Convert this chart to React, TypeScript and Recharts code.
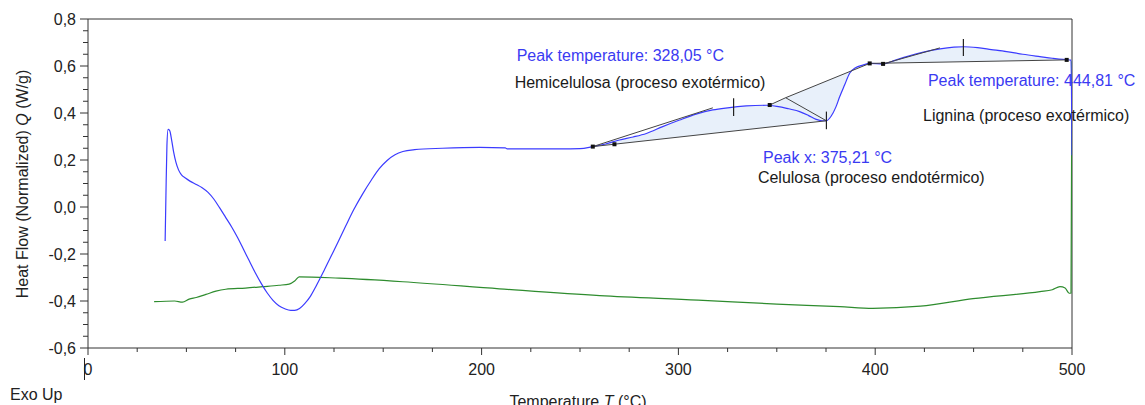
import React from 'react';
import {
  ComposedChart,
  Line,
  Area,
  Scatter,
  XAxis,
  YAxis,
  ReferenceLine,
  ReferenceDot,
} from 'recharts';

// DSC heat flow of the sample (°C, W/g)
const dscTemp = [
  39.2, 39.6, 40.1, 40.7, 41.5, 42.5, 43.5, 44.7, 46, 47.5, 49.5, 52, 55, 58, 61, 64, 67, 70, 73, 76, 79,
  82, 85, 88, 91, 94, 97, 100, 103, 105, 107.5, 110, 113, 116, 119.5, 123, 127, 131, 135, 139.5, 144, 148,
  152, 156, 160, 166, 180, 199, 212, 213, 240, 250, 256.5, 263, 270, 277, 283.7, 292, 300.6, 309, 317.5,
  325, 334.5, 344.7, 346.4, 350, 354.5, 356, 361.6, 366, 370, 373, 375.2, 377.5, 380, 382, 384.5, 387,
  390, 393.7, 397.2, 404, 410, 416, 425, 433, 440, 445, 452, 459, 466.8, 475, 483.7, 490, 495.6, 497.3,
  499.5, 500,
];
const dscFlow = [
  -0.145, 0.05, 0.26, 0.33, 0.325, 0.285, 0.235, 0.19, 0.158, 0.137, 0.123, 0.109, 0.096, 0.082, 0.062,
  0.033, -0.005, -0.045, -0.085, -0.13, -0.18, -0.23, -0.28, -0.325, -0.365, -0.397, -0.42, -0.433, -0.44,
  -0.44, -0.432, -0.412, -0.38, -0.335, -0.278, -0.218, -0.15, -0.08, -0.012, 0.055, 0.115, 0.163, 0.198,
  0.222, 0.236, 0.244, 0.25, 0.254, 0.252, 0.247, 0.247, 0.248, 0.257, 0.268, 0.285, 0.298, 0.313, 0.342,
  0.37, 0.395, 0.413, 0.422, 0.43, 0.433, 0.432, 0.428, 0.421, 0.418, 0.406, 0.39, 0.373, 0.367, 0.367,
  0.385, 0.425, 0.47, 0.52, 0.569, 0.593, 0.604, 0.611, 0.609, 0.624, 0.64, 0.66, 0.673, 0.68, 0.682,
  0.678, 0.67, 0.661, 0.65, 0.64, 0.633, 0.628, 0.627, 0.625, 0.22,
];

// second (green) trace
const refTemp = [
  33.6, 44, 48, 51.4, 55, 59.9, 65, 70, 80, 88.7, 97, 102.2, 105, 107.3, 127.7, 160, 209, 260, 310, 350,
  382, 398.8, 423, 449.7, 483.7, 490, 493.9, 496.5, 498.6, 499.5, 500,
];
const refFlow = [
  -0.403, -0.4, -0.405, -0.392, -0.385, -0.372, -0.358, -0.35, -0.345, -0.339, -0.333, -0.328, -0.315,
  -0.297, -0.303, -0.318, -0.348, -0.377, -0.396, -0.413, -0.424, -0.431, -0.422, -0.39, -0.36, -0.352,
  -0.339, -0.345, -0.367, -0.366, 0.62,
];

// baseline constructions of the peak integrations
const hemiBase: [number, number][] = [[256.5, 0.257], [375.2, 0.367]];
const hemiTangent: [number, number][] = [[256.5, 0.257], [317.5, 0.422]];
const celUpper: [number, number][] = [[346.4, 0.434], [354.5, 0.465], [397.2, 0.611]];
const celDrop: [number, number][] = [[354.5, 0.465], [375.2, 0.367]];
const ligBase: [number, number][] = [[397.2, 0.611], [497.3, 0.626]];
const ligTangent: [number, number][] = [[404, 0.609], [432.9, 0.677]];
const markerPoints: [number, number][] = [
  [256.5, 0.257], [267.5, 0.267], [346.4, 0.434], [397.2, 0.611], [404, 0.609], [497.3, 0.626],
];
const peakTicks = [
  { t: 328.05, lo: 0.387, hi: 0.463 },
  { t: 375.21, lo: 0.331, hi: 0.406 },
  { t: 444.81, lo: 0.643, hi: 0.715 },
];

const notes = [
  { t: 217.8, q: 0.645, text: 'Peak temperature: 328,05 °C', blue: true },
  { t: 216.8, q: 0.53, text: 'Hemicelulosa (proceso exotérmico)', blue: false },
  { t: 426.8, q: 0.537, text: 'Peak temperature: 444,81 °C', blue: true },
  { t: 424.3, q: 0.388, text: 'Lignina (proceso exotérmico)', blue: false },
  { t: 343.0, q: 0.209, text: 'Peak x: 375,21 °C', blue: true },
  { t: 340.4, q: 0.128, text: 'Celulosa (proceso endotérmico)', blue: false },
];

const xTicks = [0, 25, 50, 75, 100, 125, 150, 175, 200, 225, 250, 275, 300, 325, 350, 375, 400, 425, 450, 475, 500];
const yTicks = [
  -0.6, -0.55, -0.5, -0.45, -0.4, -0.35, -0.3, -0.25, -0.2, -0.15, -0.1, -0.05, 0, 0.05, 0.1, 0.15, 0.2,
  0.25, 0.3, 0.35, 0.4, 0.45, 0.5, 0.55, 0.6, 0.65, 0.7, 0.75, 0.8,
];

const FONT = '"Liberation Sans", Arial, sans-serif';
const BLUE = '#3b3bff';
const LABEL_BLUE = '#3a3af2';
const GREEN = '#2e8c2e';
const FILL = '#e8f0fa';
const AXIS = '#333';

const dscData = dscTemp.map((t, i) => ({ t, q: dscFlow[i] }));
const refData = refTemp.map((t, i) => ({ t, q: refFlow[i] }));
const seg = (pts: [number, number][]) => pts.map(([t, q]) => ({ t, q }));
const markerData = seg(markerPoints);

// value of a polyline at t
function polyAt(pts: [number, number][], t: number): number {
  for (let i = 0; i < pts.length - 1; i++) {
    const [t0, q0] = pts[i];
    const [t1, q1] = pts[i + 1];
    if (t >= t0 && t <= t1) return q0 + ((t - t0) / (t1 - t0)) * (q1 - q0);
  }
  return pts[pts.length - 1][1];
}

const hemiFill = dscData
  .filter((d) => d.t >= hemiBase[0][0] && d.t <= hemiBase[1][0])
  .map((d) => ({ t: d.t, band: [polyAt(hemiBase, d.t), d.q] }));
const celFill = dscData
  .filter((d) => d.t >= celUpper[0][0] && d.t <= celUpper[2][0])
  .map((d) => ({ t: d.t, band: [d.q, polyAt(celUpper, d.t)] }));
const ligFill = dscData
  .filter((d) => d.t >= ligBase[0][0] && d.t <= ligBase[1][0])
  .map((d) => ({ t: d.t, band: [polyAt(ligBase, d.t), d.q] }));

const fmt = (v: number) => v.toFixed(1).replace('.', ',');

function YTick(props: any) {
  const { x, y, payload } = props;
  const v = payload.value as number;
  const major = Math.abs(v * 5 - Math.round(v * 5)) < 1e-6;
  return (
    <g>
      <line x1={x - (major ? 8 : 5)} x2={x} y1={y} y2={y} stroke={AXIS} />
      {major && (
        <text x={x - 12} y={y} dy="0.35em" textAnchor="end" fontSize={16} fontFamily={FONT} fill="#222">
          {fmt(v)}
        </text>
      )}
    </g>
  );
}

function XTick(props: any) {
  const { x, y, payload } = props;
  const v = payload.value as number;
  const major = v % 100 === 0;
  return (
    <g>
      <line x1={x} x2={x} y1={y} y2={y + (major ? 7 : 4)} stroke={AXIS} />
      {major && (
        <text x={x} y={y + 27} textAnchor="middle" fontSize={16} fontFamily={FONT} fill="#222">
          {v}
        </text>
      )}
      {v === 0 && <line x1={x - 3.5} x2={x - 3.5} y1={y + 10} y2={y + 32} stroke="#222" />}
    </g>
  );
}

function YTitle(props: any) {
  const { viewBox } = props;
  const cx = viewBox.x - 5.5;
  const cy = 184;
  return (
    <text
      x={cx}
      y={cy}
      dy="0.35em"
      transform={`rotate(-90, ${cx}, ${cy})`}
      textAnchor="middle"
      fontSize={16}
      fontFamily={FONT}
      fill="#222"
    >
      Heat Flow (Normalized){'  '}
      <tspan fontStyle="italic">Q</tspan>
      {'  '}(W/g)
    </text>
  );
}

function XTitle(props: any) {
  const { viewBox } = props;
  const cx = viewBox.x + viewBox.width / 2 - 2;
  return (
    <g fontSize={16} fontFamily={FONT} fill="#222">
      <text x={cx} y={406.5} textAnchor="middle">
        Temperature <tspan fontStyle="italic">T</tspan> (°C)
      </text>
      <text x={10} y={400}>Exo Up</text>
    </g>
  );
}

const Square = (props: any) => (
  <rect x={props.cx - 2} y={props.cy - 2} width={4} height={4} fill="#111" />
);

const noteShape = (text: string, blue: boolean) => (props: any) => (
  <text x={props.cx} y={props.cy} dy="0.35em" fontSize={16} fontFamily={FONT} fill={blue ? LABEL_BLUE : '#1a1a1a'}>
    {text}
  </text>
);

const construction = [hemiBase, hemiTangent, celUpper, celDrop, ligBase, ligTangent];

export default function App() {
  return (
    <div style={{ position: 'absolute', left: 0, top: 0, width: 1145, height: 405, background: '#fff' }}>
      <ComposedChart width={1145} height={405} margin={{ top: 19, right: 73, bottom: 27, left: 28 }}>
        <XAxis
          dataKey="t"
          type="number"
          domain={[0, 500]}
          ticks={xTicks}
          interval={0}
          tickSize={0}
          tickMargin={0}
          tickLine={false}
          tick={<XTick />}
          height={30}
          axisLine={{ stroke: AXIS }}
          allowDataOverflow
          label={<XTitle />}
        />
        <YAxis
          type="number"
          domain={[-0.6, 0.8]}
          ticks={yTicks}
          interval={0}
          tickSize={0}
          tickMargin={0}
          tickLine={false}
          tick={<YTick />}
          width={60}
          axisLine={{ stroke: AXIS }}
          allowDataOverflow
          label={<YTitle />}
        />
        <ReferenceLine y={0.8} stroke={AXIS} />
        <ReferenceLine x={500} stroke={AXIS} />

        <Area data={hemiFill} dataKey="band" type="linear" stroke="none" fill={FILL} fillOpacity={1} isAnimationActive={false} />
        <Area data={celFill} dataKey="band" type="linear" stroke="none" fill={FILL} fillOpacity={1} isAnimationActive={false} />
        <Area data={ligFill} dataKey="band" type="linear" stroke="none" fill={FILL} fillOpacity={1} isAnimationActive={false} />

        <Line data={refData} dataKey="q" type="monotone" stroke={GREEN} strokeWidth={1.2} dot={false} isAnimationActive={false} />
        <Line data={dscData} dataKey="q" type="monotone" stroke={BLUE} strokeWidth={1.2} dot={false} isAnimationActive={false} />

        {construction.map((pts, i) => (
          <Line
            key={i}
            data={seg(pts)}
            dataKey="q"
            type="linear"
            stroke="#444"
            strokeWidth={1}
            dot={false}
            isAnimationActive={false}
          />
        ))}
        {peakTicks.map((p) => (
          <ReferenceLine
            key={p.t}
            segment={[{ x: p.t, y: p.lo }, { x: p.t, y: p.hi }]}
            stroke="#222"
            strokeWidth={1.2}
          />
        ))}
        <Scatter data={markerData} dataKey="q" shape={<Square />} isAnimationActive={false} />

        {notes.map((n) => (
          <ReferenceDot key={n.text} x={n.t} y={n.q} r={0} ifOverflow="visible" shape={noteShape(n.text, n.blue)} />
        ))}
      </ComposedChart>
    </div>
  );
}
